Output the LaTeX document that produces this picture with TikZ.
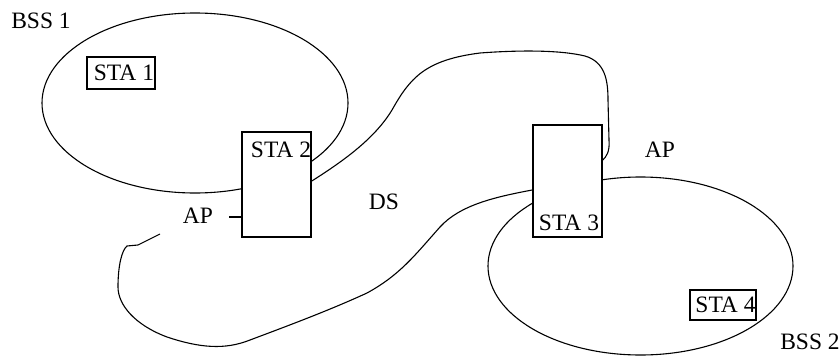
\documentclass[tikz,border=0pt]{standalone}
\usepackage{fontspec}
\setmainfont{Liberation Serif}
\usetikzlibrary{shapes.geometric}
\begin{document}
\begin{tikzpicture}[x=1pt,y=-1pt,
  lbl/.style={font=\fontsize{23.5}{26}\selectfont, inner sep=0pt},
  bss/.style={draw, ellipse, line width=1.1pt, inner sep=0pt},
  stabox/.style={draw, fill=white, line width=1.6pt, inner sep=0pt},
  wire/.style={line width=1.1pt}]
\useasboundingbox (0,0) rectangle (840,356);
% BSS areas
\node[bss, minimum width=306pt, minimum height=180pt] (bss1) at (195,103) {};
\node[bss, minimum width=305pt, minimum height=178pt] (bss2) at (640.5,266) {};
% stations (boxes)
\node[stabox, minimum width=68pt, minimum height=32pt] (sta1) at (121,73) {};
\node[stabox, minimum width=69pt, minimum height=105pt] (sta2) at (276.5,184.5) {};
\node[stabox, minimum width=69pt, minimum height=112pt] (sta3) at (567.5,181) {};
\node[stabox, minimum width=66pt, minimum height=30pt] (sta4) at (723,305) {};
% DS wires
\coordinate (dsfree) at (160,234);
\coordinate (apstub) at (229,217);
\draw[wire] ([yshift=3.5pt]sta2.east) .. controls (345,160) and (375,138) .. (392,110)
  .. controls (410,78) and (425,60) .. (480,53)
  .. controls (520,50) and (560,50) .. (585,56)
  .. controls (605,62) and (608,80) .. (608,100) -- (609,140)
  .. controls (610,152) and (606,157) .. ([yshift=21pt]sta3.east);
\draw[wire] ([yshift=-9pt]sta3.west) .. controls (495,197) and (460,205) .. (440,227)
  .. controls (415,255) and (400,275) .. (367,293)
  .. controls (330,310) and (290,325) .. (250,340)
  .. controls (225,350) and (200,348) .. (167,337)
  .. controls (135,325) and (118,305) .. (118,287)
  .. controls (118,265) and (122,250) .. (127,246) -- (138,245) -- (dsfree);
\draw[wire] (apstub) -- ([yshift=-32.5pt]sta2.west);
% texts
\node[lbl] (t1) at (124,73) {STA 1};
\node[lbl] (t2) at (281,150) {STA 2};
\node[lbl] (t3) at (569,223) {STA 3};
\node[lbl] (t4) at (725.5,305) {STA 4};
\node[lbl] (lbss1) at (41,21) {BSS 1};
\node[lbl] (lbss2) at (810,342) {BSS 2};
\node[lbl] (ap1) at (198,216) {AP};
\node[lbl] (ap2) at (660,150) {AP};
\node[lbl] (ds) at (384,202) {DS};
\end{tikzpicture}
\end{document}
